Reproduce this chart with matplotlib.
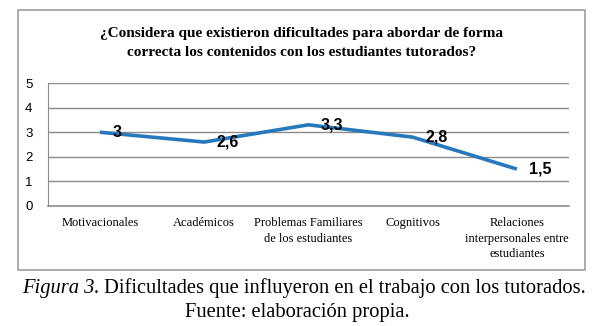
import numpy as np
import matplotlib.pyplot as plt
from matplotlib.patches import Rectangle

# datos
categorias = ["Motivacionales", "Académicos", "Problemas Familiares\nde los estudiantes",
              "Cognitivos", "Relaciones\ninterpersonales entre\nestudiantes"]
valores = [3, 2.6, 3.3, 2.8, 1.5]
etiquetas = ["3", "2,6", "3,3", "2,8", "1,5"]
yticks = [0, 1, 2, 3, 4, 5]

titulo = "¿Considera que existieron dificultades para abordar de forma\ncorrecta los contenidos con los estudiantes tutorados?"

W, H = 608, 326
fig = plt.figure(figsize=(W / 100, H / 100), dpi=100)
fig.patch.set_facecolor("white")

# recuadro del grafico
fig.patches.append(Rectangle((18 / W, 1 - 270 / H), (585 - 18) / W, (270 - 10) / H,
                             transform=fig.transFigure, fill=False,
                             edgecolor="#a0a0a0", linewidth=1.2))

ax = fig.add_axes([47.7 / W, 1 - 206 / H, (569 - 47.7) / W, (206 - 83) / H])
x = np.arange(len(valores))
ax.plot(x, valores, color="#2878bd", linewidth=2.6, solid_joinstyle="round",
        solid_capstyle="butt", zorder=3)
for xi, v, t in zip(x, valores, etiquetas):
    ax.annotate(t, (xi, v), xytext=(9, 0), textcoords="offset points",
                ha="left", va="center", fontsize=11.5, fontweight="bold",
                family="Liberation Sans", color="black", zorder=4)

ax.set_xlim(-0.5, len(valores) - 0.5)
ax.set_ylim(0, 5)
ax.set_yticks(yticks)
ax.set_yticklabels([str(t) for t in yticks], family="Liberation Sans", fontsize=9.5)
ax.set_xticks(x)
ax.set_xticklabels(categorias, family="Liberation Serif", fontsize=9, linespacing=1.4,
                   va="top")
ax.tick_params(axis="both", length=0)
ax.tick_params(axis="x", pad=8)
ax.tick_params(axis="y", pad=11)
for yv in yticks[1:]:
    ax.axhline(yv, color="#8c8c8c", linewidth=1.0, zorder=1)
for s in ["top", "right"]:
    ax.spines[s].set_visible(False)
ax.spines["left"].set_color("#8c8c8c")
ax.spines["bottom"].set_color("#8c8c8c")
ax.spines["bottom"].set_linewidth(1.2)
for lbl in ax.get_xticklabels():
    lbl.set_multialignment("center")

fig.text(302 / W, 1 - 43 / H, titulo, ha="center", va="center", family="Liberation Serif",
         fontweight="bold", fontsize=11, linespacing=1.5)

# pie de figura: parte en cursiva + resto, centrado como una sola linea
fs = 14.8
t1 = fig.text(0, 1 - 288 / H, "Figura 3.", ha="left", va="center", family="Liberation Serif",
              style="italic", fontsize=fs)
t2 = fig.text(0, 1 - 288 / H, " Dificultades que influyeron en el trabajo con los tutorados.",
              ha="left", va="center", family="Liberation Serif", fontsize=fs)
r = fig.canvas.get_renderer()
w1 = t1.get_window_extent(r).width
w2 = t2.get_window_extent(r).width
x0 = 304 - (w1 + w2) / 2
t1.set_x(x0 / W)
t2.set_x((x0 + w1) / W)
fig.text(297 / W, 1 - 313 / H, "Fuente: elaboración propia.", ha="center", va="center",
         family="Liberation Serif", fontsize=fs)

fig.savefig("out.png", dpi=100, facecolor="white")
